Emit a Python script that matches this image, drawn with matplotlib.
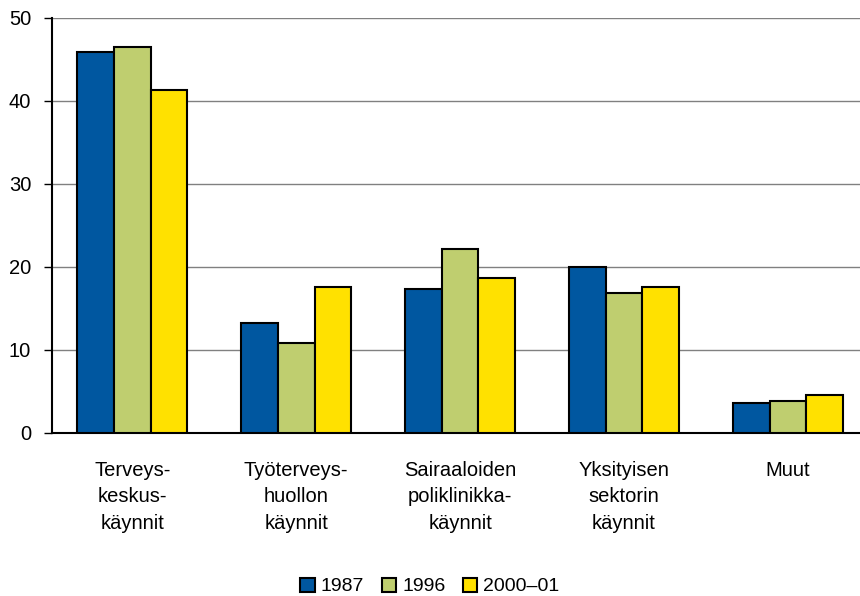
import matplotlib.pyplot as plt
import numpy as np

plt.rcParams['font.family'] = ['Liberation Sans', 'DejaVu Sans']

categories = ['Terveys-\nkeskus-\nkäynnit', 'Työterveys-\nhuollon\nkäynnit',
              'Sairaaloiden\npoliklinikka-\nkäynnit', 'Yksityisen\nsektorin\nkäynnit', 'Muut']
series_names = ['1987', '1996', '2000–01']
values_1987 = [45.9, 13.2, 17.3, 20.0, 3.6]
values_1996 = [46.5, 10.8, 22.2, 16.9, 3.9]
values_2000 = [41.3, 17.6, 18.7, 17.6, 4.6]
colors = ['#0057A0', '#BFCE6F', '#FFE100']

fig = plt.figure(figsize=(8.6, 5.96), dpi=100)
ax = fig.add_axes([0.0605, 0.2735, 0.9395, 0.6965])

x = np.arange(len(categories))
w = 0.224
for i, (vals, name) in enumerate(zip([values_1987, values_1996, values_2000], series_names)):
    ax.bar(x + (i - 1) * w, vals, w, color=colors[i], edgecolor='black',
           linewidth=1.5, label=name, zorder=3)

ax.set_ylim(0, 50)
ax.set_xlim(-0.49, 4.44)
ax.set_yticks(range(0, 51, 10))
ax.yaxis.grid(True, color='#808080', linewidth=1.0, zorder=0)
ax.set_xticks(x)
ax.set_xticklabels(categories, fontsize=14.5, linespacing=1.5)
ax.tick_params(axis='x', length=0, pad=20)
ax.tick_params(axis='y', labelsize=14.5, length=6, width=1, direction='out', pad=9)
for s in ['top', 'right']:
    ax.spines[s].set_visible(False)
ax.spines['left'].set_linewidth(1.5)
ax.spines['bottom'].set_linewidth(1.5)

fig.legend(loc='center', bbox_to_anchor=(0.5, 0.016), ncol=3, frameon=False,
           fontsize=14, handlelength=0.75, handleheight=0.75, handletextpad=0.3,
           columnspacing=0.9)

fig.savefig('out.png', dpi=100)
